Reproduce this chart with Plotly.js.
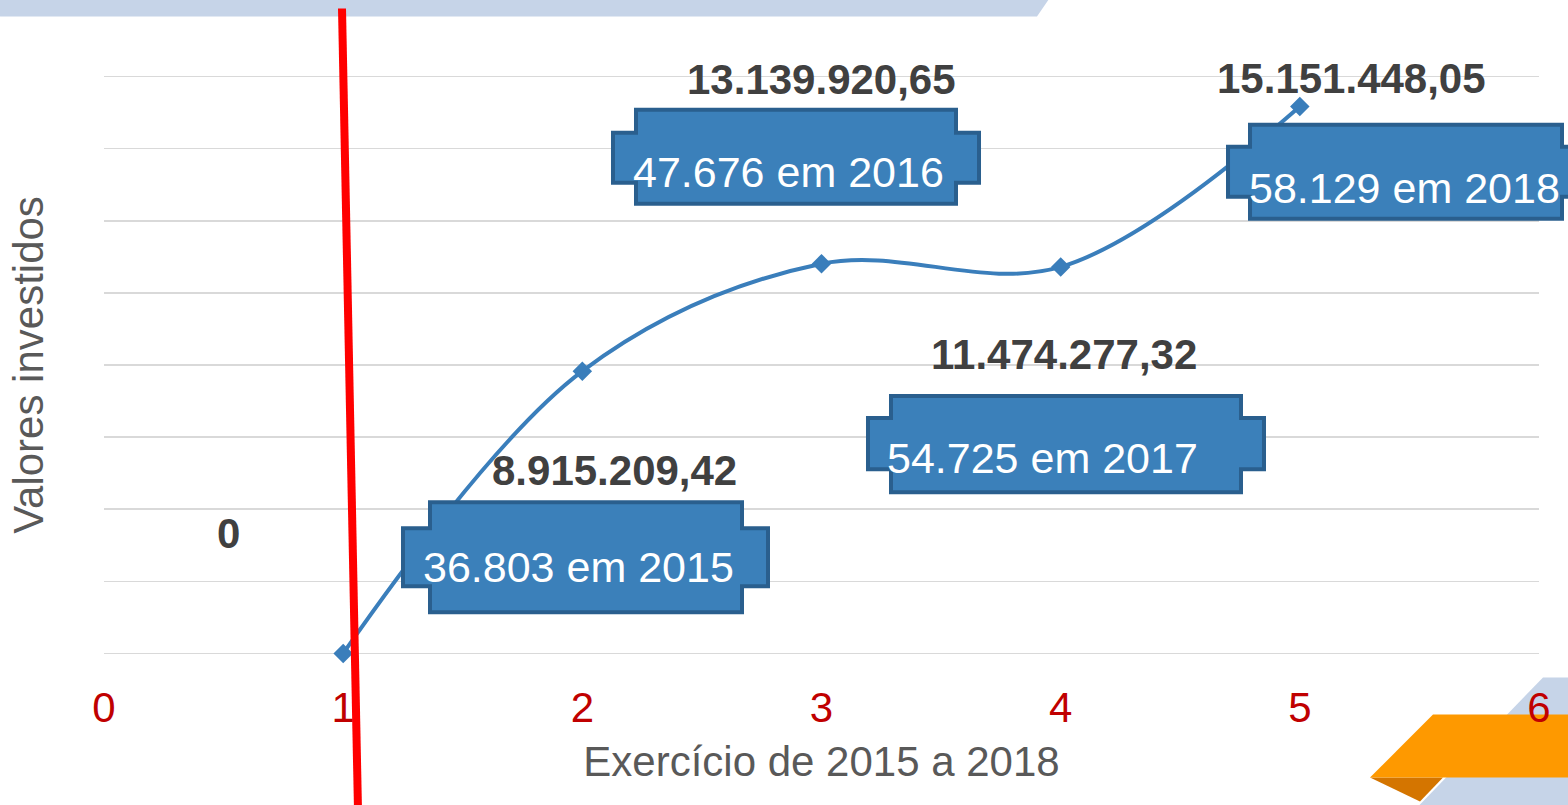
<!DOCTYPE html>
<html>
<head>
<meta charset="utf-8">
<script src="https://cdn.plot.ly/plotly-3.0.1.min.js"></script>
<style>html,body{margin:0;padding:0;background:#fff;}#chart{width:1568px;height:805px;}</style>
</head>
<body>
<div id="chart"></div>
<script>
// ---- data ----
const exercicio = [1, 2, 3, 4, 5];
const valoresInvestidos = [0, 7830000, 10810000, 10720000, 15170000];
const rotulosValores = ['0', '8.915.209,42', '13.139.920,65', '11.474.277,32', '15.151.448,05'];
const rotulosCaixas = ['36.803 em 2015', '47.676 em 2016', '54.725 em 2017', '58.129 em 2018'];
const xTickVals = [0, 1, 2, 3, 4, 5, 6];

// ---- layout helpers (pixel -> paper) ----
const W = 1568, H = 805, L = 104, R = 1539;
const T0 = 77, B0 = 653;            // pixel rows of 16M and 0
const PAD = 0.1;                     // range padding (millions)
const pxPerM = (B0 - T0) / 16;
const T = T0 - PAD * pxPerM, B = B0 + PAD * pxPerM;
const px = x => (x - L) / (R - L);
const py = y => (B - y) / (B - T);

function plaque(n, w) {
  const pts = [
    [n[0], n[2]], [n[1], n[2]], [n[1], w[2]], [w[1], w[2]], [w[1], w[3]], [n[1], w[3]],
    [n[1], n[3]], [n[0], n[3]], [n[0], w[3]], [w[0], w[3]], [w[0], w[2]], [n[0], w[2]]
  ];
  const d = 'M ' + pts.map(p => px(p[0]).toFixed(5) + ',' + py(p[1]).toFixed(5)).join(' L ') + ' Z';
  return {type: 'path', xref: 'paper', yref: 'paper', path: d, layer: 'above',
          fillcolor: '#3B80BA', line: {color: '#2A5F8E', width: 4}};
}
function poly(points, color, layer) {
  const d = 'M ' + points.map(p => px(p[0]).toFixed(5) + ',' + py(p[1]).toFixed(5)).join(' L ') + ' Z';
  return {type: 'path', xref: 'paper', yref: 'paper', path: d, layer: layer || 'above',
          fillcolor: color, line: {width: 0}};
}

const boxGeom = [
  {n: [430, 742, 502, 612], w: [403, 768, 528, 586], t: [578, 567]},
  {n: [636, 956, 110, 204], w: [613, 979, 133, 183], t: [788, 172]},
  {n: [891, 1241, 396, 492], w: [868, 1264, 418, 469], t: [1042, 458]},
  {n: [1250, 1562, 125, 219], w: [1228, 1600, 147, 197], t: [1404, 188]}
];
const labelShift = [[-115, 120], [32, -99], [0, 184], [3, -88], [52, 28]];

const FONT = '"Liberation Sans", Arial, sans-serif';

const shapes = [];
shapes.push(poly([[0, -2], [1050, -2], [1037, 17], [0, 17]], '#C6D4E8', 'below'));
shapes.push(poly([[1543, 677], [1570, 677], [1570, 807], [1417, 807]], '#C6D4E8', 'below'));
shapes.push(poly([[1370, 777], [1443, 777], [1420, 801]], '#D47500', 'below'));
shapes.push(poly([[1433, 714], [1570, 714], [1570, 777], [1370, 777]], '#FE9900', 'below'));
boxGeom.forEach(b => shapes.push(plaque(b.n, b.w)));
shapes.push({type: 'line', xref: 'paper', yref: 'paper', layer: 'above',
  x0: px(342), y0: py(9), x1: px(358), y1: py(810), line: {color: '#FF0000', width: 8}});

const annotations = [];
exercicio.forEach((x, i) => {
  annotations.push({x: x, y: valoresInvestidos[i], xref: 'x', yref: 'y', text: '<b>' + rotulosValores[i] + '</b>',
    showarrow: false, xshift: labelShift[i][0], yshift: labelShift[i][1],
    font: {family: FONT, size: 42, color: '#404040'}, xanchor: 'center', yanchor: 'middle'});
});
rotulosCaixas.forEach((t, i) => {
  annotations.push({x: px(boxGeom[i].t[0]), y: py(boxGeom[i].t[1]), xref: 'paper', yref: 'paper', text: t,
    showarrow: false, font: {family: FONT, size: 43, color: '#FFFFFF'}, xanchor: 'center', yanchor: 'middle'});
});

const trace = {
  x: exercicio, y: valoresInvestidos, type: 'scatter', mode: 'lines+markers',
  line: {shape: 'spline', smoothing: 1, color: '#3A7EBB', width: 4},
  marker: {symbol: 'diamond', size: 15, color: '#3A7EBB'},
  cliponaxis: false, hoverinfo: 'skip'
};

const layout = {
  width: W, height: H,
  margin: {l: L, r: W - R, t: T, b: H - B, pad: 0},
  paper_bgcolor: '#FFFFFF', plot_bgcolor: 'rgba(0,0,0,0)',
  showlegend: false,
  font: {family: FONT},
  xaxis: {
    range: [0, 6], tickvals: xTickVals, ticktext: xTickVals.map(String),
    showgrid: false, zeroline: false, showline: false, ticks: '',
    ticklabelstandoff: 22,
    tickfont: {family: FONT, size: 42, color: '#C00000'},
    title: {text: 'Exercício de 2015 a 2018', font: {family: FONT, size: 42, color: '#595959'}, standoff: 16}
  },
  yaxis: {
    range: [-PAD * 1e6, (16 + PAD) * 1e6], tickvals: [0, 2e6, 4e6, 6e6, 8e6, 10e6, 12e6, 14e6, 16e6],
    showticklabels: false,
    showgrid: true, gridcolor: '#D9D9D9', gridwidth: 1.5, zeroline: false, showline: false, ticks: '',
    title: {text: 'Valores investidos', font: {family: FONT, size: 42, color: '#595959'}, standoff: 46}
  },
  shapes: shapes,
  annotations: annotations
};

Plotly.newPlot('chart', [trace], layout, {displayModeBar: false, staticPlot: true});
</script>
</body>
</html>
